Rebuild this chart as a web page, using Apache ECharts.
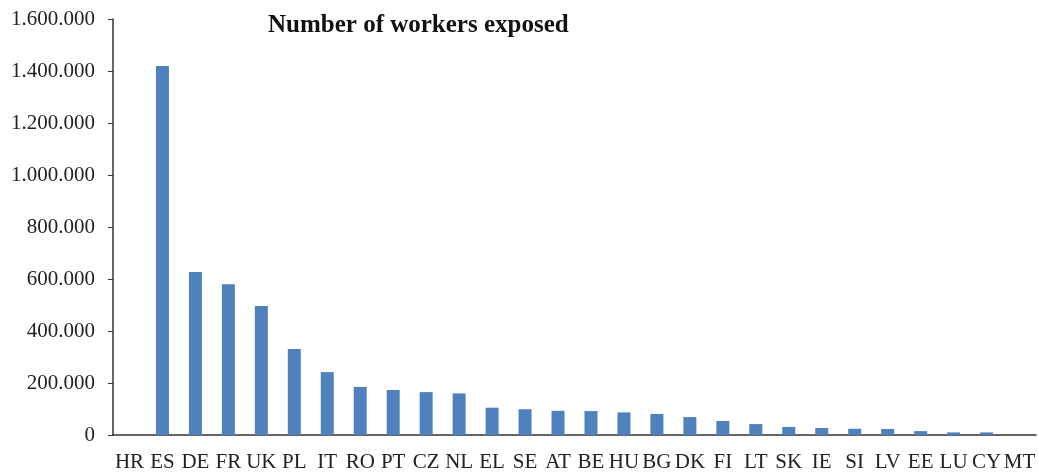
<!DOCTYPE html>
<html>
<head>
<meta charset="utf-8">
<script src="https://cdn.jsdelivr.net/npm/echarts@6/dist/echarts.min.js"></script>
<style>
  html, body { margin: 0; padding: 0; background: #fff; }
  #chart { width: 1039px; height: 473px; }
</style>
</head>
<body>
<div id="chart"></div>
<script>
const countries = ['HR', 'ES', 'DE', 'FR', 'UK', 'PL', 'IT', 'RO', 'PT', 'CZ', 'NL', 'EL', 'SE', 'AT',
  'BE', 'HU', 'BG', 'DK', 'FI', 'LT', 'SK', 'IE', 'SI', 'LV', 'EE', 'LU', 'CY', 'MT'];
const workers = [0, 1419000, 627000, 580000, 496000, 331000, 242000, 185000, 173000, 165000, 160000,
  105000, 99000, 93000, 92000, 87000, 81000, 69000, 54000, 42000, 31000, 27000, 24000, 23000,
  15000, 10000, 10000, 0];

// 1.600.000 style thousands separator
const fmt = v => String(v).replace(/\B(?=(\d{3})+(?!\d))/g, '.');

let myChart = echarts.init(document.getElementById('chart'));
myChart.setOption({
    animation: false,
    title: {
        text: 'Number of workers exposed',
        left: 263,
        top: 8,
        textStyle: { fontFamily: 'Liberation Serif', fontWeight: 'bold', fontSize: 25, color: '#111' }
    },
    grid: { left: 113, right: 3, top: 19, bottom: 38 },
    xAxis: {
        type: 'category',
        data: countries,
        axisLine: { lineStyle: { color: '#333', width: 1.5 } },
        axisTick: { inside: true, length: 6, lineStyle: { color: '#333' } },
        axisLabel: { interval: 0, fontFamily: 'Liberation Serif', fontSize: 21, color: '#222', margin: 17 }
    },
    yAxis: {
        type: 'value',
        min: 0,
        max: 1600000,
        interval: 200000,
        splitLine: { show: false },
        axisLine: { show: true, lineStyle: { color: '#333', width: 1.5 } },
        axisTick: { show: true, length: 5, lineStyle: { color: '#333' } },
        axisLabel: { fontFamily: 'Liberation Serif', fontSize: 21, color: '#222', margin: 18, formatter: fmt }
    },
    series: [{
        type: 'bar',
        data: workers,
        barWidth: 13,
        itemStyle: { color: '#4f81bd' }
    }]
});
</script>
</body>
</html>
